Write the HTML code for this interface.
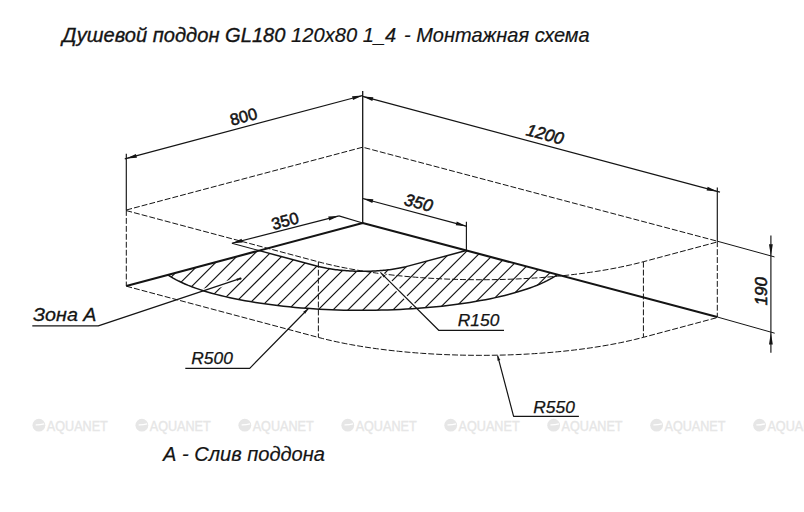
<!DOCTYPE html>
<html><head><meta charset="utf-8"><style>
html,body{margin:0;padding:0;background:#fff;}
svg{display:block;font-family:"Liberation Sans",sans-serif;}
</style></head><body>
<svg width="804" height="512" viewBox="0 0 804 512">
<rect width="804" height="512" fill="#fff"/>
<circle cx="38.9" cy="425.2" r="6.4" fill="#e6e6e6"/>
<path d="M35.7,424.9 q4,0.2 8.5,-1.1" stroke="#ffffff" stroke-width="1.3" fill="none"/>
<text stroke="#e6e6e6" x="46.8" y="430.5" font-size="14.2" font-style="normal" font-weight="normal" fill="#e6e6e6" stroke-width="0.35" text-anchor="start" textLength="61" lengthAdjust="spacingAndGlyphs">AQUANET</text>
<circle cx="141.85" cy="425.2" r="6.4" fill="#e6e6e6"/>
<path d="M138.65,424.9 q4,0.2 8.5,-1.1" stroke="#ffffff" stroke-width="1.3" fill="none"/>
<text stroke="#e6e6e6" x="149.75" y="430.5" font-size="14.2" font-style="normal" font-weight="normal" fill="#e6e6e6" stroke-width="0.35" text-anchor="start" textLength="61" lengthAdjust="spacingAndGlyphs">AQUANET</text>
<circle cx="244.8" cy="425.2" r="6.4" fill="#e6e6e6"/>
<path d="M241.6,424.9 q4,0.2 8.5,-1.1" stroke="#ffffff" stroke-width="1.3" fill="none"/>
<text stroke="#e6e6e6" x="252.7" y="430.5" font-size="14.2" font-style="normal" font-weight="normal" fill="#e6e6e6" stroke-width="0.35" text-anchor="start" textLength="61" lengthAdjust="spacingAndGlyphs">AQUANET</text>
<circle cx="347.75" cy="425.2" r="6.4" fill="#e6e6e6"/>
<path d="M344.55,424.9 q4,0.2 8.5,-1.1" stroke="#ffffff" stroke-width="1.3" fill="none"/>
<text stroke="#e6e6e6" x="355.65" y="430.5" font-size="14.2" font-style="normal" font-weight="normal" fill="#e6e6e6" stroke-width="0.35" text-anchor="start" textLength="61" lengthAdjust="spacingAndGlyphs">AQUANET</text>
<circle cx="450.7" cy="425.2" r="6.4" fill="#e6e6e6"/>
<path d="M447.5,424.9 q4,0.2 8.5,-1.1" stroke="#ffffff" stroke-width="1.3" fill="none"/>
<text stroke="#e6e6e6" x="458.6" y="430.5" font-size="14.2" font-style="normal" font-weight="normal" fill="#e6e6e6" stroke-width="0.35" text-anchor="start" textLength="61" lengthAdjust="spacingAndGlyphs">AQUANET</text>
<circle cx="553.65" cy="425.2" r="6.4" fill="#e6e6e6"/>
<path d="M550.45,424.9 q4,0.2 8.5,-1.1" stroke="#ffffff" stroke-width="1.3" fill="none"/>
<text stroke="#e6e6e6" x="561.55" y="430.5" font-size="14.2" font-style="normal" font-weight="normal" fill="#e6e6e6" stroke-width="0.35" text-anchor="start" textLength="61" lengthAdjust="spacingAndGlyphs">AQUANET</text>
<circle cx="656.6" cy="425.2" r="6.4" fill="#e6e6e6"/>
<path d="M653.4,424.9 q4,0.2 8.5,-1.1" stroke="#ffffff" stroke-width="1.3" fill="none"/>
<text stroke="#e6e6e6" x="664.5" y="430.5" font-size="14.2" font-style="normal" font-weight="normal" fill="#e6e6e6" stroke-width="0.35" text-anchor="start" textLength="61" lengthAdjust="spacingAndGlyphs">AQUANET</text>
<circle cx="759.55" cy="425.2" r="6.4" fill="#e6e6e6"/>
<path d="M756.35,424.9 q4,0.2 8.5,-1.1" stroke="#ffffff" stroke-width="1.3" fill="none"/>
<text stroke="#e6e6e6" x="767.45" y="430.5" font-size="14.2" font-style="normal" font-weight="normal" fill="#e6e6e6" stroke-width="0.35" text-anchor="start" textLength="61" lengthAdjust="spacingAndGlyphs">AQUANET</text>
<polyline points="126.3,286 362.7,223 717.3,317" fill="none" stroke="#141414" stroke-width="2.1" stroke-linejoin="round"/>
<line x1="362.7" y1="91" x2="362.7" y2="223" stroke="#141414" stroke-width="1.3" stroke-linecap="butt"/>
<line x1="126.3" y1="153.8" x2="126.3" y2="210" stroke="#141414" stroke-width="1.15" stroke-linecap="butt"/>
<line x1="717.3" y1="187.4" x2="717.3" y2="241.2" stroke="#141414" stroke-width="1.15" stroke-linecap="butt"/>
<polyline points="126.3,210 362.7,147.2 717.3,241.2" fill="none" stroke="#141414" stroke-width="1" stroke-linejoin="round" stroke-dasharray="5.9 2.05"/>
<line x1="126.3" y1="210" x2="126.3" y2="286" stroke="#141414" stroke-width="1" stroke-linecap="butt" stroke-dasharray="5.9 2.05"/>
<line x1="717.3" y1="241.2" x2="717.3" y2="317" stroke="#141414" stroke-width="1" stroke-linecap="butt" stroke-dasharray="5.9 2.05"/>
<polyline points="126.3,210.6 318.38,261.82 318.38,261.82 322.69,262.94 327.1,264.03 331.63,265.09 336.25,266.11 340.98,267.11 345.8,268.06 350.71,268.99 355.72,269.88 360.81,270.74 365.98,271.56 371.23,272.34 376.55,273.09 381.95,273.79 387.41,274.47 392.94,275.1 398.53,275.69 404.18,276.25 409.87,276.76 415.62,277.23 421.41,277.67 427.24,278.06 433.11,278.41 439.01,278.73 444.94,279 450.9,279.22 456.87,279.41 462.87,279.56 468.87,279.66 474.88,279.72 480.9,279.74 486.92,279.72 492.93,279.65 498.93,279.54 504.93,279.4 510.9,279.2 516.86,278.97 522.79,278.7 528.69,278.38 534.56,278.03 540.39,277.63 546.18,277.19 551.93,276.71 557.62,276.19 563.27,275.64 568.86,275.04 574.39,274.4 579.85,273.73 585.25,273.02 590.57,272.27 595.82,271.48 600.99,270.66 606.08,269.8 611.09,268.9 616,267.97 620.82,267.01 625.55,266.01 630.17,264.99 634.7,263.92 639.11,262.83 643.42,261.71 717.3,241.96" fill="none" stroke="#141414" stroke-width="1" stroke-linejoin="round" stroke-dasharray="5.9 2.05"/>
<polyline points="126.3,286.2 318.38,337.42 318.38,337.42 322.69,338.54 327.1,339.63 331.63,340.69 336.25,341.71 340.98,342.71 345.8,343.66 350.71,344.59 355.72,345.48 360.81,346.34 365.98,347.16 371.23,347.94 376.55,348.69 381.95,349.39 387.41,350.07 392.94,350.7 398.53,351.29 404.18,351.85 409.87,352.36 415.62,352.83 421.41,353.27 427.24,353.66 433.11,354.01 439.01,354.33 444.94,354.6 450.9,354.82 456.87,355.01 462.87,355.16 468.87,355.26 474.88,355.32 480.9,355.34 486.92,355.32 492.93,355.25 498.93,355.14 504.93,355 510.9,354.8 516.86,354.57 522.79,354.3 528.69,353.98 534.56,353.63 540.39,353.23 546.18,352.79 551.93,352.31 557.62,351.79 563.27,351.24 568.86,350.64 574.39,350 579.85,349.33 585.25,348.62 590.57,347.87 595.82,347.08 600.99,346.26 606.08,345.4 611.09,344.5 616,343.57 620.82,342.61 625.55,341.61 630.17,340.59 634.7,339.52 639.11,338.43 643.42,337.31 717.3,317.56" fill="none" stroke="#141414" stroke-width="1" stroke-linejoin="round" stroke-dasharray="5.9 2.05"/>
<line x1="318.38" y1="261.82" x2="318.38" y2="337.42" stroke="#141414" stroke-width="1" stroke-linecap="butt" stroke-dasharray="5.9 2.05"/>
<line x1="643.42" y1="261.71" x2="643.42" y2="337.31" stroke="#141414" stroke-width="1" stroke-linecap="butt" stroke-dasharray="5.9 2.05"/>
<clipPath id="hz"><polygon points="259.27,250.65 318.37,266.41 318.37,266.41 319.55,266.72 320.76,267.01 321.99,267.3 323.25,267.58 324.54,267.85 325.85,268.11 327.19,268.37 328.56,268.61 329.95,268.84 331.36,269.07 332.79,269.28 334.24,269.48 335.71,269.68 337.2,269.86 338.71,270.03 340.24,270.19 341.78,270.34 343.33,270.48 344.9,270.61 346.48,270.73 348.07,270.84 349.67,270.94 351.28,271.02 352.89,271.09 354.52,271.16 356.15,271.21 357.78,271.25 359.42,271.28 361.06,271.29 362.7,271.3 364.34,271.29 365.98,271.27 367.62,271.24 369.25,271.2 370.88,271.15 372.51,271.09 374.12,271.01 375.73,270.93 377.33,270.83 378.92,270.72 380.5,270.6 382.07,270.47 383.62,270.33 385.16,270.18 386.69,270.02 388.2,269.84 389.69,269.66 391.16,269.46 392.61,269.26 394.04,269.04 395.45,268.82 396.84,268.59 398.21,268.34 399.55,268.09 400.86,267.83 402.15,267.55 403.41,267.27 404.64,266.98 405.85,266.69 407.02,266.38 466.12,250.58 557.22,274.87 557.22,274.87 554.84,276.42 552.3,277.94 549.59,279.45 546.71,280.93 543.67,282.39 540.46,283.82 537.1,285.23 533.57,286.61 529.9,287.96 526.08,289.29 522.1,290.58 517.99,291.84 513.74,293.06 509.35,294.25 504.83,295.41 500.19,296.53 495.42,297.61 490.53,298.65 485.53,299.65 480.42,300.61 475.2,301.54 469.88,302.42 464.47,303.25 458.96,304.05 453.37,304.79 447.7,305.5 441.95,306.16 436.13,306.77 430.24,307.33 424.29,307.85 418.29,308.32 412.24,308.74 406.15,309.12 400.01,309.44 393.85,309.72 387.65,309.94 381.43,310.12 375.2,310.25 368.95,310.32 362.7,310.35 356.45,310.33 350.2,310.26 343.97,310.13 337.75,309.96 331.55,309.74 325.39,309.47 319.25,309.15 313.16,308.78 307.11,308.36 301.11,307.89 295.16,307.38 289.27,306.82 283.45,306.21 277.7,305.56 272.03,304.86 266.44,304.11 260.93,303.32 255.52,302.49 250.2,301.61 244.98,300.69 239.87,299.74 234.87,298.74 229.98,297.7 225.21,296.62 220.57,295.5 216.05,294.35 211.66,293.16 207.41,291.94 203.3,290.68 199.32,289.4 195.5,288.08 191.83,286.73 188.3,285.35 184.94,283.94 181.73,282.51 178.69,281.05 175.81,279.57 173.1,278.07 170.56,276.55 168.18,275 168.18,275"/></clipPath>
<path clip-path="url(#hz)" d="M188.3,200 L-11.7,400 M203.28,200 L3.28,400 M218.26,200 L18.26,400 M233.24,200 L33.24,400 M248.22,200 L48.22,400 M263.2,200 L63.2,400 M278.18,200 L78.18,400 M293.16,200 L93.16,400 M308.14,200 L108.14,400 M323.12,200 L123.12,400 M338.1,200 L138.1,400 M353.08,200 L153.08,400 M368.06,200 L168.06,400 M383.04,200 L183.04,400 M398.02,200 L198.02,400 M413,200 L213,400 M427.98,200 L227.98,400 M442.96,200 L242.96,400 M457.94,200 L257.94,400 M472.92,200 L272.92,400 M487.9,200 L287.9,400 M502.88,200 L302.88,400 M517.86,200 L317.86,400 M532.84,200 L332.84,400 M547.82,200 L347.82,400 M562.8,200 L362.8,400 M577.78,200 L377.78,400 M592.76,200 L392.76,400 M607.74,200 L407.74,400 M622.72,200 L422.72,400 M637.7,200 L437.7,400 M652.68,200 L452.68,400 M667.66,200 L467.66,400 M682.64,200 L482.64,400 M697.62,200 L497.62,400 M712.6,200 L512.6,400 M727.58,200 L527.58,400 M742.56,200 L542.56,400 M757.54,200 L557.54,400 M772.52,200 L572.52,400 M787.5,200 L587.5,400" stroke="#141414" stroke-width="1.15" fill="none"/>
<g clip-path="url(#hz)" stroke="#fff" stroke-width="4.2" stroke-linecap="round"><line x1="98.3" y1="325.9" x2="240.7" y2="278.4"/><line x1="380.4" y1="272.4" x2="438.9" y2="330.3"/></g>
<polyline points="259.27,250.65 318.37,266.41 318.37,266.41 319.55,266.72 320.76,267.01 321.99,267.3 323.25,267.58 324.54,267.85 325.85,268.11 327.19,268.37 328.56,268.61 329.95,268.84 331.36,269.07 332.79,269.28 334.24,269.48 335.71,269.68 337.2,269.86 338.71,270.03 340.24,270.19 341.78,270.34 343.33,270.48 344.9,270.61 346.48,270.73 348.07,270.84 349.67,270.94 351.28,271.02 352.89,271.09 354.52,271.16 356.15,271.21 357.78,271.25 359.42,271.28 361.06,271.29 362.7,271.3 364.34,271.29 365.98,271.27 367.62,271.24 369.25,271.2 370.88,271.15 372.51,271.09 374.12,271.01 375.73,270.93 377.33,270.83 378.92,270.72 380.5,270.6 382.07,270.47 383.62,270.33 385.16,270.18 386.69,270.02 388.2,269.84 389.69,269.66 391.16,269.46 392.61,269.26 394.04,269.04 395.45,268.82 396.84,268.59 398.21,268.34 399.55,268.09 400.86,267.83 402.15,267.55 403.41,267.27 404.64,266.98 405.85,266.69 407.02,266.38 466.12,250.58" fill="none" stroke="#141414" stroke-width="1.5" stroke-linejoin="round"/>
<polyline points="168.18,275 170.56,276.55 173.1,278.07 175.81,279.57 178.69,281.05 181.73,282.51 184.94,283.94 188.3,285.35 191.83,286.73 195.5,288.08 199.32,289.4 203.3,290.68 207.41,291.94 211.66,293.16 216.05,294.35 220.57,295.5 225.21,296.62 229.98,297.7 234.87,298.74 239.87,299.74 244.98,300.69 250.2,301.61 255.52,302.49 260.93,303.32 266.44,304.11 272.03,304.86 277.7,305.56 283.45,306.21 289.27,306.82 295.16,307.38 301.11,307.89 307.11,308.36 313.16,308.78 319.25,309.15 325.39,309.47 331.55,309.74 337.75,309.96 343.97,310.13 350.2,310.26 356.45,310.33 362.7,310.35 368.95,310.32 375.2,310.25 381.43,310.12 387.65,309.94 393.85,309.72 400.01,309.44 406.15,309.12 412.24,308.74 418.29,308.32 424.29,307.85 430.24,307.33 436.13,306.77 441.95,306.16 447.7,305.5 453.37,304.79 458.96,304.05 464.47,303.25 469.88,302.42 475.2,301.54 480.42,300.61 485.53,299.65 490.53,298.65 495.42,297.61 500.19,296.53 504.83,295.41 509.35,294.25 513.74,293.06 517.99,291.84 522.1,290.58 526.08,289.29 529.9,287.96 533.57,286.61 537.1,285.23 540.46,283.82 543.67,282.39 546.71,280.93 549.59,279.45 552.3,277.94 554.84,276.42 557.22,274.87" fill="none" stroke="#141414" stroke-width="1.5" stroke-linejoin="round"/>
<line x1="124.8" y1="158.9" x2="362.7" y2="95.5" stroke="#141414" stroke-width="1.15" stroke-linecap="butt"/>
<polygon points="126.3,158.5 136.95,157.68 135.94,153.91" fill="#141414"/>
<polygon points="362.7,95.5 352.05,96.32 353.06,100.09" fill="#141414"/>
<line x1="362.7" y1="96.4" x2="720" y2="192.1" stroke="#141414" stroke-width="1.15" stroke-linecap="butt"/>
<polygon points="362.7,96.4 372.34,101 373.35,97.23" fill="#141414"/>
<polygon points="717.3,191.4 707.66,186.8 706.65,190.57" fill="#141414"/>
<line x1="362.7" y1="198.5" x2="467" y2="226.35" stroke="#141414" stroke-width="1.15" stroke-linecap="butt"/>
<polygon points="362.7,198.5 372.34,203.09 373.35,199.33" fill="#141414"/>
<polygon points="466.4,226.2 456.76,221.61 455.75,225.37" fill="#141414"/>
<line x1="466.4" y1="221.8" x2="466.4" y2="250.58" stroke="#141414" stroke-width="1.15" stroke-linecap="butt"/>
<line x1="231.9" y1="243.3" x2="338.9" y2="215.9" stroke="#141414" stroke-width="1.15" stroke-linecap="butt"/>
<polygon points="231.9,243.3 242.56,242.58 241.59,238.81" fill="#141414"/>
<polygon points="338.9,215.9 328.24,216.62 329.21,220.39" fill="#141414"/>
<line x1="338.9" y1="215.9" x2="362.7" y2="223" stroke="#141414" stroke-width="1.15" stroke-linecap="butt"/>
<line x1="231.9" y1="243.3" x2="259.27" y2="250.65" stroke="#141414" stroke-width="1.15" stroke-linecap="butt"/>
<line x1="770.9" y1="235.5" x2="770.9" y2="352.8" stroke="#141414" stroke-width="1.15" stroke-linecap="butt"/>
<line x1="717.3" y1="241.2" x2="774.5" y2="256.9" stroke="#141414" stroke-width="1" stroke-linecap="butt"/>
<line x1="717.3" y1="317" x2="774.7" y2="333.2" stroke="#141414" stroke-width="1" stroke-linecap="butt"/>
<polygon points="770.9,256.2 772.8,244.2 769,244.2" fill="#141414"/>
<polygon points="770.9,332.6 769,344.6 772.8,344.6" fill="#141414"/>
<polyline points="32.3,325.9 98.3,325.9 240.7,278.4" fill="none" stroke="#141414" stroke-width="1.2" stroke-linejoin="round"/>
<polygon points="240.7,278.4 236.49,278.43 237.32,280.9" fill="#141414"/>
<circle cx="240.3" cy="278.6" r="1.2" fill="#141414"/>
<polyline points="185.3,368.3 249.7,368.3 308.4,308.5" fill="none" stroke="#141414" stroke-width="1.2" stroke-linejoin="round"/>
<polygon points="308.4,308.5 303.2,311.8 305.2,313.76" fill="#141414"/>
<polyline points="504,330.3 438.7,330.3 380.4,272.4" fill="none" stroke="#141414" stroke-width="1.2" stroke-linejoin="round"/>
<polygon points="380.4,272.4 383.68,277.62 385.65,275.63" fill="#141414"/>
<polyline points="578.9,416.4 513.6,416.4 497.6,355.6" fill="none" stroke="#141414" stroke-width="1.2" stroke-linejoin="round"/>
<polygon points="497.6,355.6 497.42,360.82 500.32,360.05" fill="#141414"/>
<g fill="#141414" stroke="#141414" stroke-width="0.45">
<text transform="translate(243.5,116.3) rotate(-14.9)" x="0" y="0" text-anchor="middle" dominant-baseline="central" font-size="16.5" font-style="normal" stroke-width="0.55">800</text>
<text transform="translate(545,134.5) rotate(15)" x="0" y="0" text-anchor="middle" dominant-baseline="central" font-size="17" font-style="italic" stroke-width="0.55">1200</text>
<text transform="translate(285,220.6) rotate(-14.9)" x="0" y="0" text-anchor="middle" dominant-baseline="central" font-size="16.5" font-style="normal" stroke-width="0.55">350</text>
<text transform="translate(418.5,203) rotate(15)" x="0" y="0" text-anchor="middle" dominant-baseline="central" font-size="17" font-style="italic" stroke-width="0.55">350</text>
<text transform="translate(761.3,291.3) rotate(-90)" x="0" y="0" text-anchor="middle" dominant-baseline="central" font-size="17" font-style="italic" stroke-width="0.55">190</text>
<text x="33" y="320.6" font-size="19" font-style="italic" font-weight="normal" fill="#141414" stroke-width="0.3" text-anchor="start" textLength="63.5" lengthAdjust="spacingAndGlyphs">Зона А</text>
<text x="191.3" y="363.7" font-size="17" font-style="italic" font-weight="normal" fill="#141414" stroke-width="0.25" text-anchor="start" textLength="41.5" lengthAdjust="spacingAndGlyphs">R500</text>
<text x="457.8" y="326.3" font-size="17" font-style="italic" font-weight="normal" fill="#141414" stroke-width="0.25" text-anchor="start" textLength="41.5" lengthAdjust="spacingAndGlyphs">R150</text>
<text x="533.3" y="412.5" font-size="17" font-style="italic" font-weight="normal" fill="#141414" stroke-width="0.25" text-anchor="start" textLength="41.5" lengthAdjust="spacingAndGlyphs">R550</text>
<text x="163" y="460.6" font-size="19.5" font-style="italic" font-weight="normal" fill="#141414" stroke-width="0.2" text-anchor="start" textLength="162" lengthAdjust="spacingAndGlyphs">А - Слив поддона</text>
<text x="62.3" y="42.1" font-size="20.5" font-style="italic" font-weight="normal" fill="#141414" stroke-width="0.45" text-anchor="start" textLength="334" lengthAdjust="spacingAndGlyphs"><tspan stroke-width="0.35">Душевой поддон GL180</tspan><tspan stroke-width="0.2"> 120x80 1_4</tspan></text>
<text x="404" y="42.4" font-size="20.4" font-style="italic" font-weight="normal" fill="#141414" stroke-width="0.2" text-anchor="start" textLength="185.7" lengthAdjust="spacingAndGlyphs">- Монтажная схема</text>
</g>
</svg>
</body></html>
